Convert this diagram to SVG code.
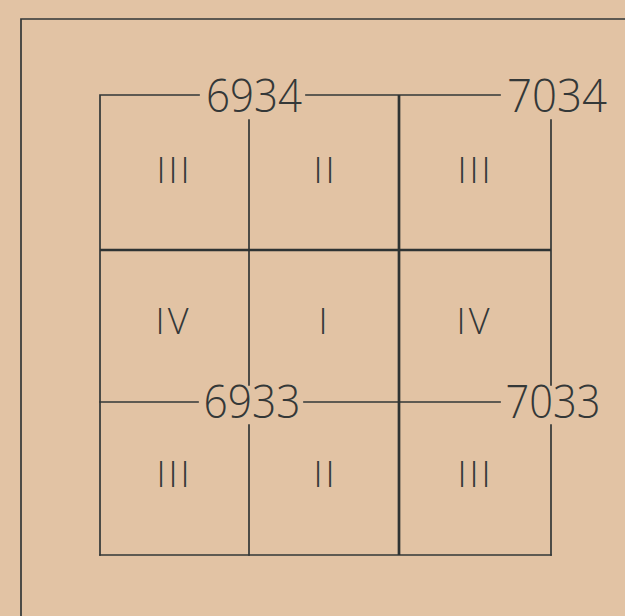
<svg xmlns="http://www.w3.org/2000/svg" width="625" height="616" viewBox="0 0 625 616">
<style>
.ln{stroke:#323737;stroke-width:1.7;fill:none;stroke-linecap:square}
.thk{stroke:#2e3333;stroke-width:2.7;fill:none}
.num{font-family:"Open Sans","Liberation Sans",sans-serif;font-weight:300;font-size:46px;fill:#343838;text-anchor:middle}
.rom{font-family:"Open Sans","Liberation Sans",sans-serif;font-weight:300;font-size:36px;fill:#343838;text-anchor:middle;letter-spacing:3px}
</style>
<rect width="625" height="616" fill="#e2c3a4"/>
<g id="frame">
<path class="ln" d="M21 616 V19 H625"/>
</g>
<g id="connectors">
<path class="ln" d="M100 555 V95 H199"/>
<path class="ln" d="M306 95 H500"/>
<path class="ln" d="M249 120 V385"/>
<path class="ln" d="M249 425 V555"/>
<path class="ln" d="M551 120 V385"/>
<path class="ln" d="M551 425 V555"/>
<path class="ln" d="M100 402 H198"/>
<path class="ln" d="M304 402 H500"/>
<path class="ln" d="M100 555 H551"/>
<path class="thk" d="M100 250 H551"/>
<path class="thk" d="M399 95 V555"/>
</g>
<g id="sheet-6934"><text class="num" x="254" y="112" textLength="96" lengthAdjust="spacingAndGlyphs">6934</text></g>
<g id="sheet-7034"><text class="num" x="557" y="112" textLength="100" lengthAdjust="spacingAndGlyphs">7034</text></g>
<g id="sheet-6933"><text class="num" x="252" y="418" textLength="97" lengthAdjust="spacingAndGlyphs">6933</text></g>
<g id="sheet-7033"><text class="num" x="553" y="418" textLength="95" lengthAdjust="spacingAndGlyphs">7033</text></g>
<g id="cells">
<text class="rom" x="174.5" y="183">III</text>
<text class="rom" x="325.5" y="183">II</text>
<text class="rom" x="475.5" y="183">III</text>
<text class="rom" x="173.5" y="334">IV</text>
<text class="rom" x="324.5" y="334">I</text>
<text class="rom" x="474.5" y="334">IV</text>
<text class="rom" x="174.5" y="487">III</text>
<text class="rom" x="325.5" y="487">II</text>
<text class="rom" x="475.5" y="487">III</text>
</g>
</svg>
